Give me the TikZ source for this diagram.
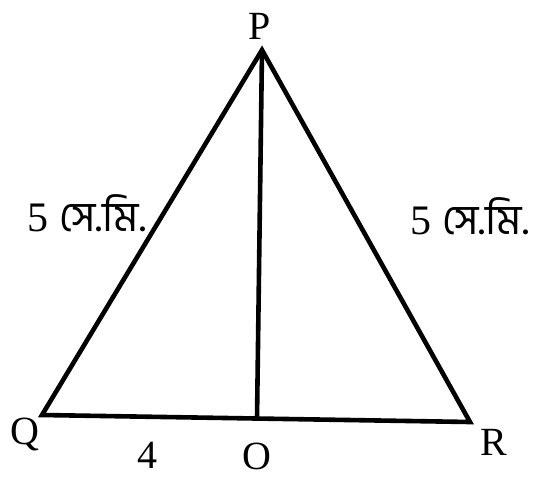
\documentclass[tikz,border=0pt]{standalone}
\usepackage{fontspec}
\setmainfont{Liberation Serif}
\newfontfamily\bnfont[Script=Bengali]{Hind Siliguri}
\begin{document}
\begin{tikzpicture}[x=1pt,y=-1pt,
  edge/.style={line width=4.6pt,line join=miter,line cap=butt},
  lbl/.style={font=\fontsize{40}{40}\selectfont,inner sep=0pt},
  bn/.style={font=\fontsize{42}{42}\selectfont,inner sep=0pt}]
\useasboundingbox (0,0) rectangle (544,483);
\coordinate (P) at (262,50);
\coordinate (Q) at (42,415);
\coordinate (R) at (470,422);
\coordinate (O) at (257,419);
\draw[edge] (P) -- (Q) -- (R) -- cycle;
\draw[edge] (P) -- (O);
\node[lbl] (lP) at (260,26) {P};
\node[lbl] (lQ) at (25,434) {Q};
\node[lbl] (lR) at (494,442) {R};
\node[lbl] (lO) at (257,456) {O};
\node[lbl] (l4) at (147,455) {4};
\node[bn] (lL) at (87,213) {5 {\bnfont সে.মি.}};
\node[bn] (lRt) at (470,216) {5 {\bnfont সে.মি.}};
\end{tikzpicture}
\end{document}
